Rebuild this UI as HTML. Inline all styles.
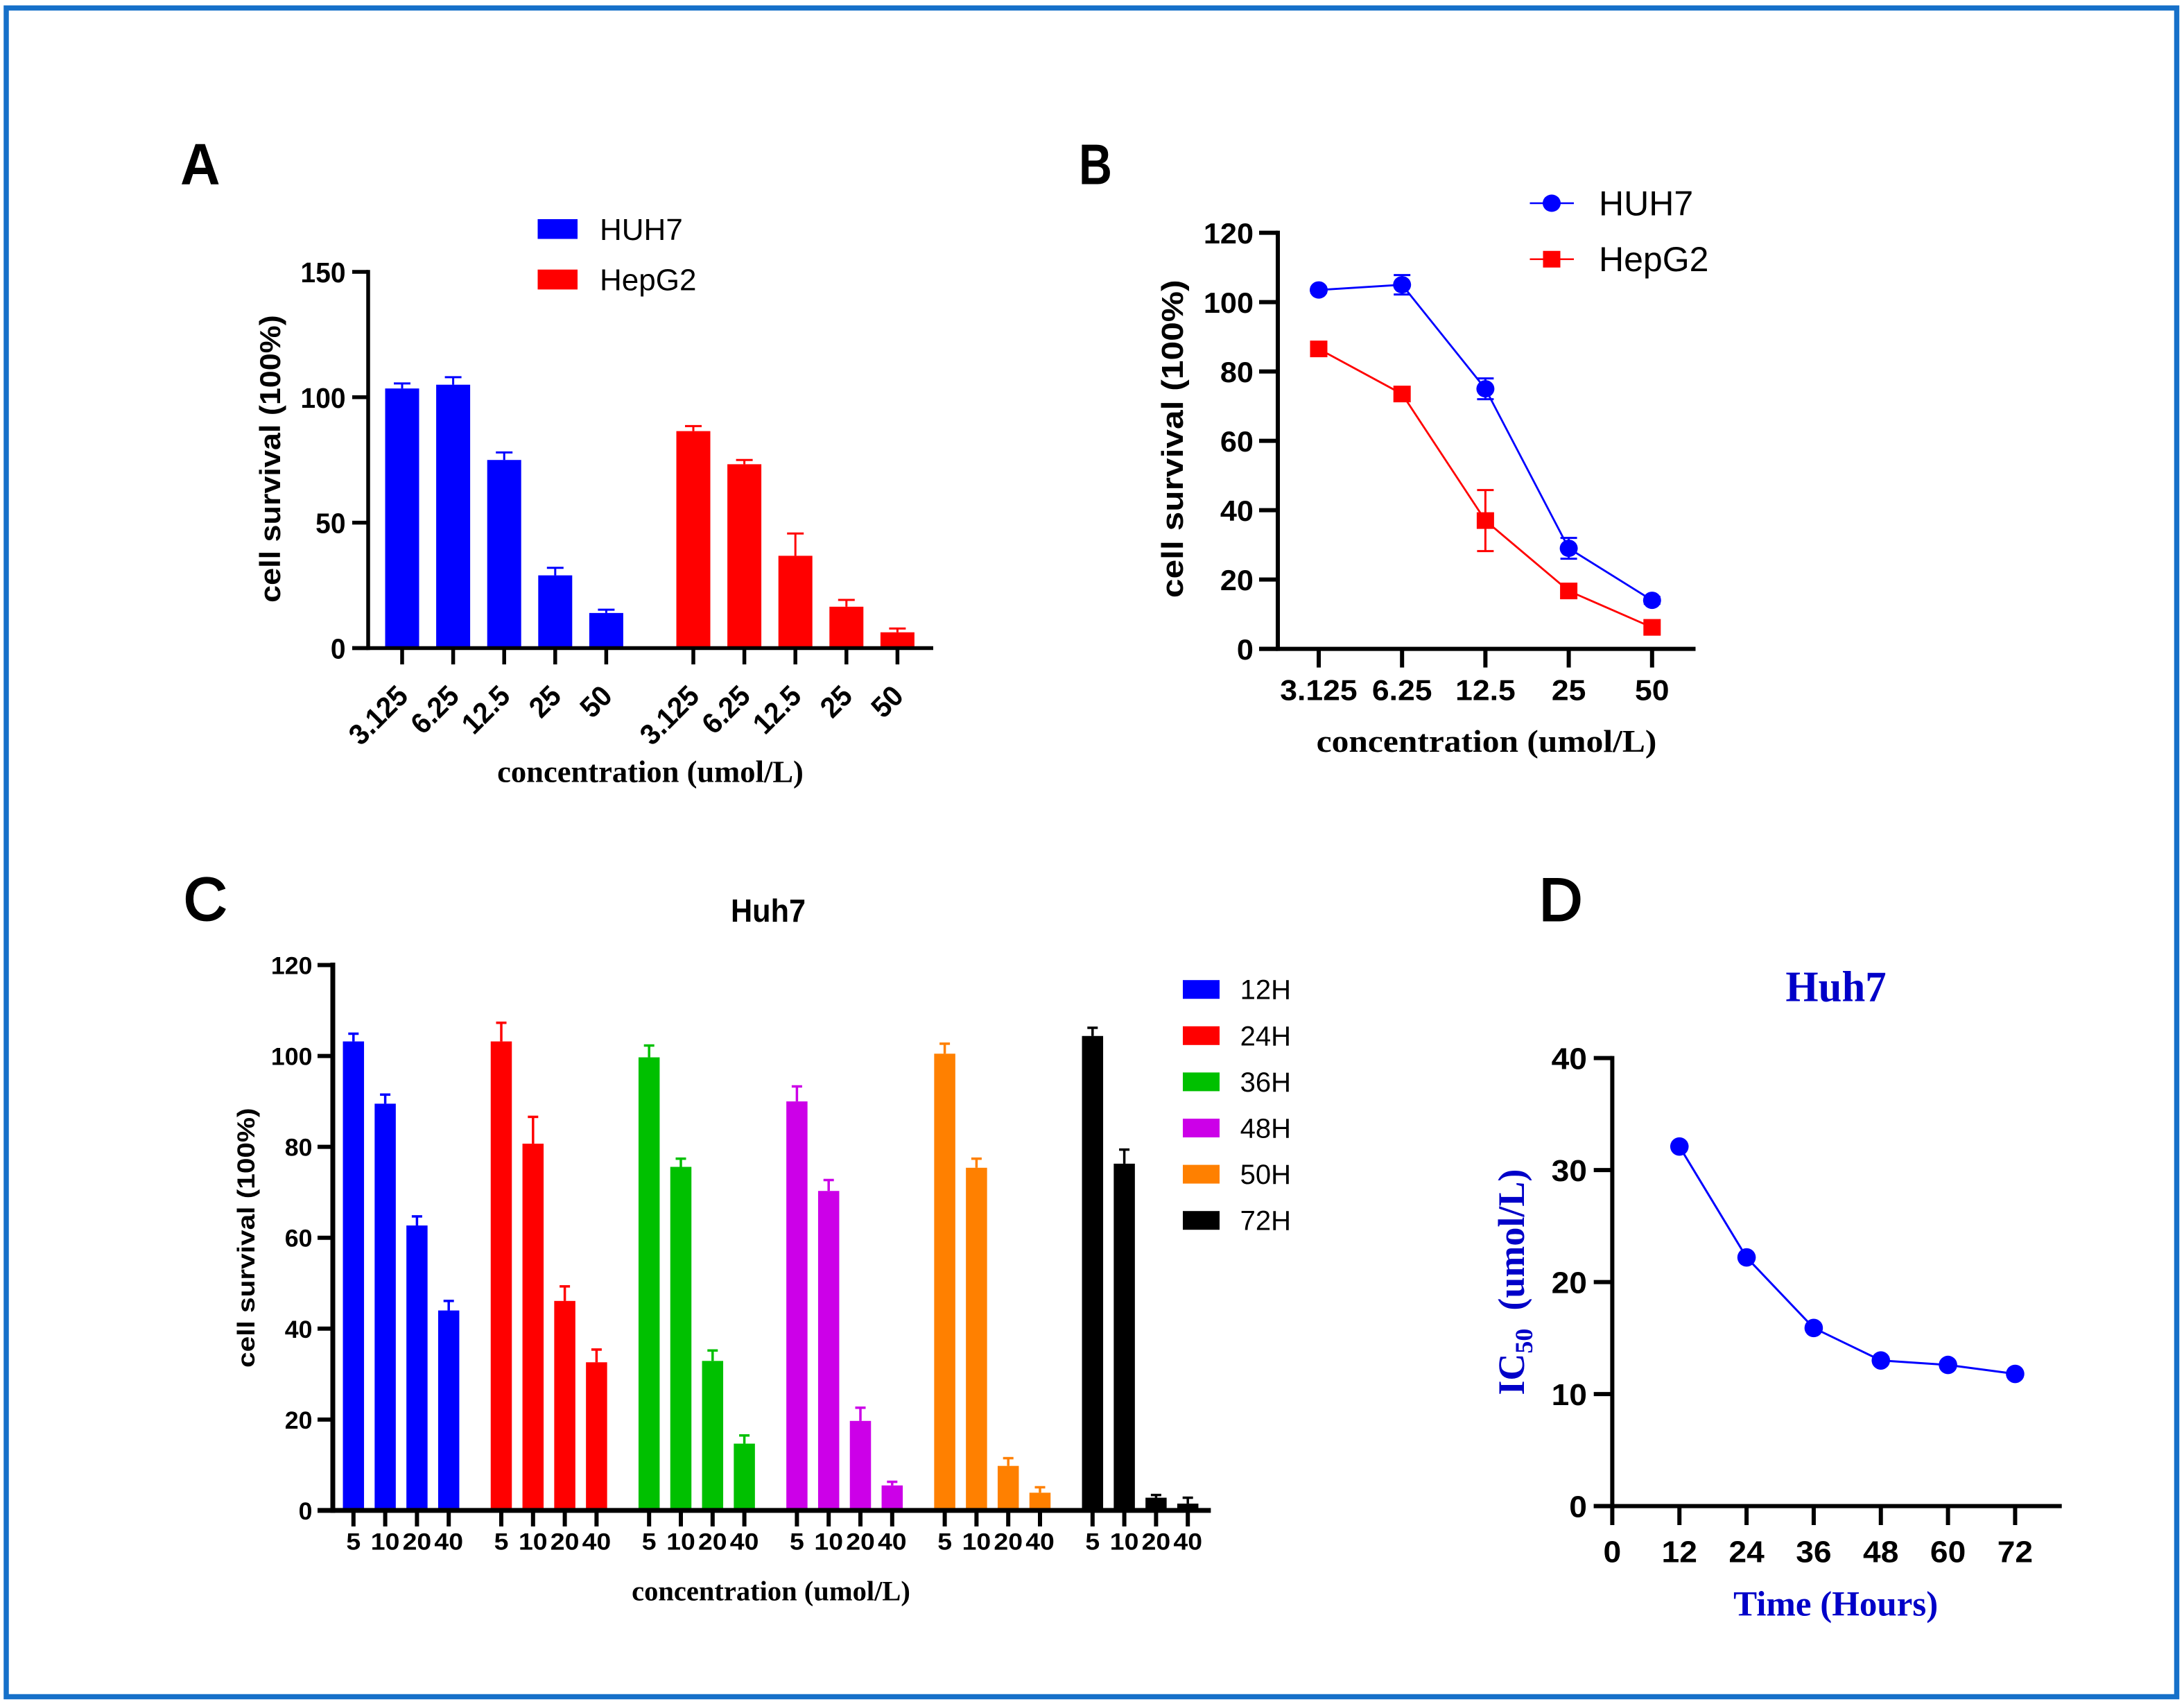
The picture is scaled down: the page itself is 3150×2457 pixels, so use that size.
<!DOCTYPE html>
<html lang="en">
<head>
<meta charset="utf-8">
<title>Cell survival panels</title>
<style>
html,body{margin:0;padding:0;background:#fff;}
svg{display:block;}
.sans{font-family:"Liberation Sans",Arial,sans-serif;}
.serif{font-family:"Liberation Serif","Times New Roman",serif;}
.b{font-weight:700;}
</style>
</head>
<body>
<svg id="figure" xmlns="http://www.w3.org/2000/svg" width="3150" height="2457" viewBox="0 0 3150 2457">
  <rect x="0" y="0" width="3150" height="2457" fill="#ffffff"/>
  <rect x="9" y="11.5" width="3130.5" height="2435" fill="none" stroke="#1670c9" stroke-width="7.5"/>

  <text class="sans b" font-size="84" transform="translate(260,266) scale(0.95,1)">A</text>
  <text class="sans b" font-size="83" transform="translate(1556,265.5) scale(0.8,1)">B</text>
  <text class="sans" font-size="86" stroke="#000" stroke-width="3" transform="translate(265,1326)">C</text>
  <text class="sans" font-size="86" stroke="#000" stroke-width="3" transform="translate(2220,1327)">D</text>

  <g id="panel-a">
    <rect x="775.5" y="316" width="57.5" height="28.5" fill="#0000ff"/>
    <text class="sans" font-size="44" transform="translate(865,345.8)">HUH7</text>
    <rect x="775.5" y="388.7" width="57.5" height="28.7" fill="#ff0000"/>
    <text class="sans" font-size="44" transform="translate(865,418.7)">HepG2</text>
    <text class="sans b" font-size="42" text-anchor="middle" transform="translate(404,661.6) rotate(-90) scale(1.07,1)">cell survival (100%)</text>
    <text class="serif b" font-size="44" text-anchor="middle" transform="translate(938,1127.7) scale(1.013,1)">concentration (umol/L)</text>
  </g>

  <g id="panel-b">
    <text class="sans" font-size="50" transform="translate(2306,310.6)">HUH7</text>
    <text class="sans" font-size="50" transform="translate(2306,391)">HepG2</text>
    <line x1="2206.5" y1="293" x2="2270" y2="293" stroke="#0000ff" stroke-width="2.5"/>
    <ellipse cx="2238" cy="293" rx="13" ry="12.5" fill="#0000ff"/>
    <line x1="2206.5" y1="373.75" x2="2270" y2="373.75" stroke="#ff0000" stroke-width="2.5"/>
    <rect x="2225.5" y="361.75" width="25" height="24" fill="#ff0000"/>
    <text class="sans b" font-size="44" text-anchor="middle" transform="translate(1706,632.8) rotate(-90) scale(1.13,1)">cell survival (100%)</text>
    <text class="serif b" font-size="46" text-anchor="middle" transform="translate(2144,1084) scale(1.076,1)">concentration (umol/L)</text>
  </g>

  <g id="panel-c">
    <text class="sans b" font-size="46" text-anchor="middle" transform="translate(1108,1329) scale(0.94,1)">Huh7</text>
    <text class="sans b" font-size="35" text-anchor="middle" transform="translate(367,1784.7) rotate(-90) scale(1.16,1)">cell survival (100%)</text>
    <text class="serif b" font-size="40" text-anchor="middle" transform="translate(1112,2307.7) scale(1.013,1)">concentration (umol/L)</text>
  </g>

  <g id="panel-d">
    <text class="serif b" font-size="62" fill="#0000c8" text-anchor="middle" transform="translate(2648,1443.4) scale(0.98,1)">Huh7</text>
    <text class="serif b" font-size="51" fill="#0000c8" text-anchor="middle" transform="translate(2647.7,2329.4)">Time (Hours)</text>
    <text class="serif b" font-size="54" fill="#0000c8" transform="translate(2198,2011.6) rotate(-90)">IC<tspan font-size="36" dy="12">50</tspan><tspan dy="-12" dx="26">(umol/L)</tspan></text>
  </g>
</svg>
<script>
// ---------- Panel A data ----------
var aCategories = ['3.125', '6.25', '12.5', '25', '50'];
var aHuh7 = [103.5, 105, 75, 29, 14];
var aHuh7Err = [2, 3, 3, 3, 1.3];
var aHepG2 = [86.5, 73.3, 36.8, 16.5, 6.3];
var aHepG2Err = [2, 1.7, 8.9, 2.7, 1.5];
var aTicks = [0, 50, 100, 150];

// ---------- Panel B data ----------
var bCategories = ['3.125', '6.25', '12.5', '25', '50'];
var bHuh7 = [103.5, 105, 75, 29, 14];
var bHuh7Err = [0.8, 2.8, 3, 3, 1];
var bHepG2 = [86.5, 73.5, 37, 16.7, 6.2];
var bHepG2Err = [1, 1, 8.8, 1, 1];
var bTicks = [0, 20, 40, 60, 80, 100, 120];

// ---------- Panel C data ----------
var cDoses = ['5', '10', '20', '40'];
var cTicks = [0, 20, 40, 60, 80, 100, 120];
var cLegend = ['12H', '24H', '36H', '48H', '50H', '72H'];
var c12H = [103.2, 89.5, 62.7, 44];
var c12HErr = [1.7, 2, 2, 2.1];
var c24H = [103.2, 80.7, 46.1, 32.6];
var c24HErr = [4.1, 5.9, 3.2, 2.8];
var c36H = [99.7, 75.6, 32.9, 14.7];
var c36HErr = [2.6, 1.8, 2.3, 1.8];
var c48H = [90, 70.3, 19.7, 5.5];
var c48HErr = [3.3, 2.4, 2.9, 0.8];
var c50H = [100.5, 75.4, 9.8, 3.9];
var c50HErr = [2.2, 2, 1.7, 1.2];
var c72H = [104.4, 76.3, 2.8, 1.5];
var c72HErr = [1.8, 3.1, 0.6, 1.3];

// ---------- Panel D data ----------
var dHours = [12, 24, 36, 48, 60, 72];
var dIC50 = [32.1, 22.2, 15.9, 13, 12.6, 11.8];
var dXTicks = [0, 12, 24, 36, 48, 60, 72];
var dYTicks = [0, 10, 20, 30, 40];

var NS = 'http://www.w3.org/2000/svg';
var BLUE = '#0000ff', RED = '#ff0000', GREEN = '#00c000', PURPLE = '#cc00e8', ORANGE = '#ff8000', BLACK = '#000000';

function drawLine(parent, name, x1, y1, x2, y2, color, width) {
  var el = document.createElementNS(NS, 'line');
  
  
  el.setAttribute('x1', x1);
  el.setAttribute('y1', y1);
  el.setAttribute('x2', x2);
  el.setAttribute('y2', y2);
  el.setAttribute('stroke', color);
  el.setAttribute('stroke-width', width);
  parent.appendChild(el);
  return el;
}
function drawRect(parent, name, x, y, w, h, color) {
  var el = document.createElementNS(NS, 'rect');
  
  
  el.setAttribute('x', x);
  el.setAttribute('y', y);
  el.setAttribute('width', w);
  el.setAttribute('height', h);
  el.setAttribute('fill', color);
  parent.appendChild(el);
  return el;
}
function drawEllipse(parent, name, cx, cy, rx, ry, color) {
  var el = document.createElementNS(NS, 'ellipse');
  
  
  el.setAttribute('cx', cx);
  el.setAttribute('cy', cy);
  el.setAttribute('rx', rx);
  el.setAttribute('ry', ry);
  el.setAttribute('fill', color);
  parent.appendChild(el);
  return el;
}
function drawPolyline(parent, name, pts, color, width) {
  var el = document.createElementNS(NS, 'polyline');
  
  
  el.setAttribute('points', pts.join(' '));
  el.setAttribute('fill', 'none');
  el.setAttribute('stroke', color);
  el.setAttribute('stroke-width', width);
  parent.appendChild(el);
  return el;
}
function drawText(parent, name, x, y, str, size, anchor, sx, rot, cls) {
  var el = document.createElementNS(NS, 'text');
  
  
  el.setAttribute('class', cls || 'sans b');
  el.setAttribute('font-size', size);
  el.setAttribute('text-anchor', anchor);
  el.setAttribute('transform', 'translate(' + x + ',' + y + ') rotate(' + (rot || 0) + ') scale(' + (sx || 1) + ',1)');
  el.textContent = str;
  parent.appendChild(el);
  return el;
}
function drawErrorUp(parent, name, x, yVal, yTop, capW, color, width) {
  drawLine(parent, name + '-stem', x, yVal, x, yTop, color, width);
  drawLine(parent, name + '-cap', x - capW / 2, yTop, x + capW / 2, yTop, color, width);
}
function drawYAxis(parent, name, x, yMaxPx, yZeroPx, width) {
  drawLine(parent, name, x, yMaxPx - width / 2, x, yZeroPx + width / 2, '#000', width);
}

// ---------- Panel A ----------
(function () {
  var g = document.getElementById('panel-a');
  function y(v) { return 934.5 - v * 3.617; }
  function x(group, i) { return 580 + i * 73.6 + group * 420; }
  var barW = 49;
  function bars(vals, errs, group, color, label) {
    vals.forEach(function (v, i) {
      var cx = x(group, i);
      drawErrorUp(g, 'error-bar-' + label + '-' + i, cx, y(v), y(v + errs[i]), 24, color, 3);
      drawRect(g, 'bar-' + label + '-' + i, cx - barW / 2, y(v), barW, y(0) - y(v), color);
    });
  }
  bars(aHuh7, aHuh7Err, 0, BLUE, 'huh7');
  bars(aHepG2, aHepG2Err, 1, RED, 'hepg2');
  drawYAxis(g, 'y-axis-a', 531, y(150), y(0), 5.5);
  drawLine(g, 'x-axis-a', 508, y(0), 1346, y(0), '#000', 5.5);
  aTicks.forEach(function (t) {
    drawLine(g, 'y-tick-a', 508, y(t), 531, y(t), '#000', 5.5);
    drawText(g, 'y-tick-label-a', 498.5, y(t) + 15, String(t), 41, 'end', 0.95);
  });
  [0, 1].forEach(function (group) {
    aCategories.forEach(function (c, i) {
      var cx = x(group, i);
      drawLine(g, 'x-tick-a', cx, y(0), cx, 958, '#000', 5.5);
      drawText(g, 'x-tick-label-a', cx + 11, 1006, c, 42, 'end', 0.95, -45);
    });
  });
})();

// ---------- Panel B ----------
(function () {
  var g = document.getElementById('panel-b');
  function y(v) { return 935.6 - v * 5; }
  function x(i) { return 1902 + i * 120.2; }
  function series(vals, errs, color, label, square) {
    var pts = vals.map(function (v, i) { return x(i) + ',' + y(v); });
    drawPolyline(g, 'line-' + label, pts, color, 2.8);
    vals.forEach(function (v, i) {
      var cx = x(i);
      drawLine(g, 'error-stem-' + label + '-' + i, cx, y(v + errs[i]), cx, y(v - errs[i]), color, 3);
      drawLine(g, 'error-cap-top-' + label + '-' + i, cx - 12, y(v + errs[i]), cx + 12, y(v + errs[i]), color, 3);
      drawLine(g, 'error-cap-bottom-' + label + '-' + i, cx - 12, y(v - errs[i]), cx + 12, y(v - errs[i]), color, 3);
      if (square) {
        drawRect(g, 'point-' + label + '-' + i, cx - 12.5, y(v) - 12, 25, 24, color);
      } else {
        drawEllipse(g, 'point-' + label + '-' + i, cx, y(v), 13, 12.5, color);
      }
    });
  }
  series(bHuh7, bHuh7Err, BLUE, 'huh7', false);
  series(bHepG2, bHepG2Err, RED, 'hepg2', true);
  drawYAxis(g, 'y-axis-b', 1843, y(120), y(0), 6);
  drawLine(g, 'x-axis-b', 1816, y(0), 2445.5, y(0), '#000', 6);
  bTicks.forEach(function (t) {
    drawLine(g, 'y-tick-b', 1816, y(t), 1843, y(t), '#000', 6);
    drawText(g, 'y-tick-label-b', 1808, y(t) + 15.5, String(t), 42, 'end', 1.03);
  });
  bCategories.forEach(function (c, i) {
    drawLine(g, 'x-tick-b', x(i), y(0), x(i), 962.5, '#000', 6);
    drawText(g, 'x-tick-label-b', x(i), 1009.4, c, 42, 'middle', 1.06);
  });
})();

// ---------- Panel C ----------
(function () {
  var g = document.getElementById('panel-c');
  var seriesVals = [c12H, c24H, c36H, c48H, c50H, c72H];
  var seriesErrs = [c12HErr, c24HErr, c36HErr, c48HErr, c50HErr, c72HErr];
  var colors = [BLUE, RED, GREEN, PURPLE, ORANGE, BLACK];
  function y(v) { return 2177.9 - v * 6.553; }
  function x(group, i) { return 509.8 + group * 213.2 + i * 45.8; }
  var barW = 30.5;
  seriesVals.forEach(function (vals, s) {
    vals.forEach(function (v, i) {
      var cx = x(s, i);
      drawErrorUp(g, 'error-bar-' + cLegend[s] + '-' + cDoses[i], cx, y(v), y(v + seriesErrs[s][i]), 15, colors[s], 3.5);
      drawRect(g, 'bar-' + cLegend[s] + '-' + cDoses[i], cx - barW / 2, y(v), barW, y(0) - y(v), colors[s]);
    });
  });
  drawYAxis(g, 'y-axis-c', 480, y(120), y(0), 7);
  drawLine(g, 'x-axis-c', 458, y(0), 1746.4, y(0), '#000', 7);
  cTicks.forEach(function (t) {
    drawLine(g, 'y-tick-c', 458, y(t), 480, y(t), '#000', 6);
    drawText(g, 'y-tick-label-c', 450.5, y(t) + 13, String(t), 35, 'end', 1.02);
  });
  seriesVals.forEach(function (vals, s) {
    cDoses.forEach(function (d, i) {
      drawLine(g, 'x-tick-c', x(s, i), y(0), x(s, i), 2201, '#000', 6);
      drawText(g, 'x-tick-label-c', x(s, i), 2234.7, d, 34, 'middle', 1.1);
    });
  });
  cLegend.forEach(function (name, i) {
    var cy = 1426.7 + i * 66.6;
    drawRect(g, 'legend-swatch-' + name, 1706, cy - 13.5, 53, 27, colors[i]);
    drawText(g, 'legend-label-' + name, 1862, cy + 14, name, 40, 'end', 1, 0, 'sans');
  });
})();

// ---------- Panel D ----------
(function () {
  var g = document.getElementById('panel-d');
  function y(v) { return 2171.6 - v * 16.15; }
  function x(h) { return 2325.4 + h * 8.07; }
  var pts = dHours.map(function (h, i) { return x(h) + ',' + y(dIC50[i]); });
  drawPolyline(g, 'line-ic50', pts, BLUE, 3);
  dHours.forEach(function (h, i) {
    drawEllipse(g, 'point-ic50-' + h, x(h), y(dIC50[i]), 13.3, 13.3, BLUE);
  });
  drawYAxis(g, 'y-axis-d', x(0), y(40), y(0), 6);
  drawLine(g, 'x-axis-d', 2298.7, y(0), 2973.7, y(0), '#000', 6);
  dYTicks.forEach(function (t) {
    drawLine(g, 'y-tick-d', 2298.7, y(t), x(0), y(t), '#000', 6);
    drawText(g, 'y-tick-label-d', 2289, y(t) + 16, String(t), 44, 'end', 1.05);
  });
  dXTicks.forEach(function (t) {
    drawLine(g, 'x-tick-d', x(t), y(0), x(t), 2199, '#000', 6);
    drawText(g, 'x-tick-label-d', x(t), 2252.3, String(t), 44, 'middle', 1.05);
  });
})();
</script>
</body>
</html>
